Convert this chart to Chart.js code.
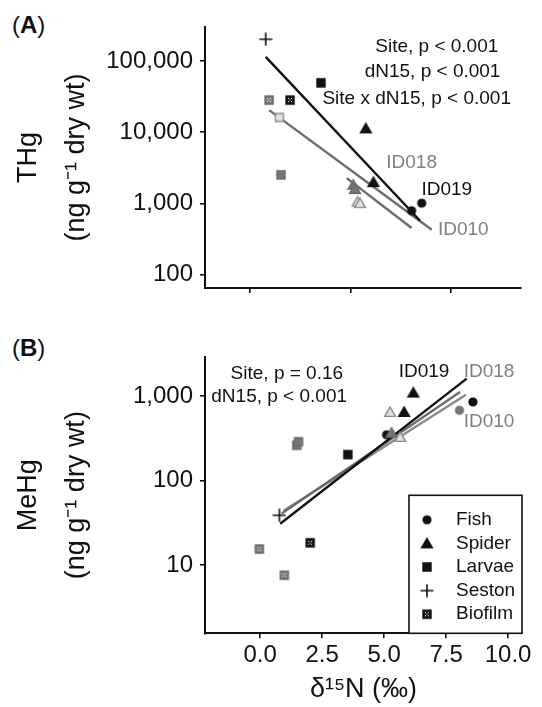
<!DOCTYPE html>
<html>
<head>
<meta charset="utf-8">
<script src="https://cdn.jsdelivr.net/npm/chart.js@4.4.1/dist/chart.umd.min.js"></script>
<style>
  body { margin: 0; background: #fff; width: 542px; height: 707px; position: relative; overflow: hidden;
         font-family: "Liberation Sans", Arial, sans-serif; color: #111; }
  .panel { position: absolute; left: 0; }
  #wrapA { top: 0; }
  #wrapB { top: 330px; }
  .tag { position: absolute; left: 12px; font-size: 24px; line-height: 1; }
</style>
</head>
<body>
<div class="tag" style="top:13px">(<b>A</b>)</div>
<div class="tag" style="top:336px">(<b>B</b>)</div>
<div class="panel" id="wrapA"><canvas id="chartA" width="542" height="320"></canvas></div>
<div class="panel" id="wrapB"><canvas id="chartB" width="542" height="377"></canvas></div>
<script>
// ---- panel A: THg vs d15N ----
const thgId019X = [0.78, 3.53, 1.99, 5.76, 6.14, 8.54, 8.04];
const thgId019Y = [201000, 49200, 28200, 11300, 1990, 1010, 791];
const thgId019Kind = ["Seston", "Larvae", "Biofilm", "Spider", "Spider", "Fish", "Fish"];

const thgId018X = [0.95, 1.54, 5.14, 5.22];
const thgId018Y = [28200, 2520, 1830, 1590];
const thgId018Kind = ["Biofilm", "Larvae", "Spider", "Spider"];

const thgId010X = [1.46, 5.35, 5.47];
const thgId010Y = [16100, 1060, 1010];
const thgId010Kind = ["Larvae", "Spider", "Spider"];

// fitted lines (start, end)
const thgFit019X = [0.78, 8.46];
const thgFit019Y = [114000, 573];
const thgFit018X = [4.81, 8.04];
const thgFit018Y = [2270, 453];
const thgFit010X = [0.95, 9.04];
const thgFit010Y = [20400, 429];

const thgTicks = [100, 1000, 10000, 100000];
const thgXTicks = [0, 5, 10];

const thgNotes = ["Site, p < 0.001", "dN15, p < 0.001", "Site x dN15, p < 0.001"];
const thgNoteX = [9.29, 9.08, 8.29];
const thgNoteY = [157000, 70200, 29800];
const thgSites = ["ID018", "ID019", "ID010"];
const thgSiteX = [8.04, 9.79, 10.61];
const thgSiteY = [3670, 1560, 429];

// ---- panel B: MeHg vs d15N ----
const mehgId019X = [0.78, 2.02, 3.54, 6.18, 5.81, 8.58, 5.10];
const mehgId019Y = [39, 18.4, 204, 1106, 652, 856, 350];
const mehgId019Kind = ["Seston", "Biofilm", "Larvae", "Spider", "Spider", "Fish", "Fish"];

const mehgId018X = [1.48, 1.55, -0.03, 0.98, 8.04, 5.30];
const mehgId018Y = [263, 290, 15.5, 7.6, 683, 370];
const mehgId018Kind = ["Larvae", "Larvae", "Biofilm", "Biofilm", "Fish", "Spider"];

const mehgId010X = [5.24, 5.65];
const mehgId010Y = [652, 330];
const mehgId010Kind = ["Spider", "Spider"];

const mehgFit019X = [0.81, 8.33];
const mehgFit019Y = [31, 1620];
const mehgFit018X = [0.87, 8.06];
const mehgFit018Y = [41, 1125];
const mehgFit010X = [0.95, 8.3];
const mehgFit010Y = [44, 1040];

const mehgTicks = [10, 100, 1000];
const mehgXTicks = [0, 2.5, 5, 7.5, 10];

const mehgNotes = ["Site, p = 0.16", "dN15, p < 0.001"];
const mehgNoteX = [1.08, 0.77];
const mehgNoteY = [1857, 981];
const mehgSites = ["ID019", "ID018", "ID010"];
const mehgSiteX = [6.61, 9.23, 9.23];
const mehgSiteY = [1940, 1940, 497];

const legendKinds = ["Fish", "Spider", "Larvae", "Seston", "Biofilm"];

// ---- styles ----
const FONT = '"Liberation Sans", Arial, sans-serif';
Chart.defaults.font.family = FONT;
Chart.defaults.color = "#111";

const siteStyle = {
    ID019: { fill: "#111", stroke: "#111", label: "#111", line: "#111" },
    ID018: { fill: "#767676", stroke: "#6a6a6a", label: "#808080", line: "#6b6b6b" },
    ID010: { fill: "#e2e2e2", stroke: "#8a8a8a", label: "#808080", line: "#8a8a8a" }
};

const markerCache = {};
function marker(kind, site) {
    let key = kind + site;
    if (markerCache[key]) return markerCache[key];
    let st = siteStyle[site];
    let c = document.createElement("canvas");
    c.width = 14; c.height = 14;
    let g = c.getContext("2d");
    g.fillStyle = st.fill;
    g.strokeStyle = st.stroke;
    g.lineWidth = 1.4;
    g.beginPath();
    if (kind === "Fish") {
        g.arc(7, 7, 3.9, 0, Math.PI * 2);
        g.fill(); g.stroke();
    } else if (kind === "Spider") {
        g.moveTo(7, 2); g.lineTo(12.4, 11.4); g.lineTo(1.6, 11.4); g.closePath();
        g.fill(); g.stroke();
    } else if (kind === "Larvae") {
        g.rect(3, 3, 8, 8);
        g.fill(); g.stroke();
    } else if (kind === "Seston") {
        g.strokeStyle = st.stroke === "#8a8a8a" ? "#8a8a8a" : st.stroke;
        g.lineWidth = 1.6;
        g.moveTo(7, 0.5); g.lineTo(7, 13.5);
        g.moveTo(0.5, 7); g.lineTo(13.5, 7);
        g.stroke();
    } else {
        // biofilm: filled square with small white dots
        g.rect(3, 3, 8, 8);
        g.fill(); g.stroke();
        g.fillStyle = "#fff";
        [[5, 5], [8, 5], [6.5, 6.5], [5, 8], [8, 8]].forEach(p => g.fillRect(p[0], p[1], 1, 1));
    }
    markerCache[key] = c;
    return c;
}

function pts(xs, ys) {
    return xs.map((x, i) => ({ x: x, y: ys[i] }));
}

function pointSet(xs, ys, kinds, site) {
    return {
        data: pts(xs, ys),
        pointStyle: kinds.map(k => marker(k, site)),
        pointRadius: 5,
        showLine: false,
        order: 0
    };
}

function lineSet(xs, ys, site) {
    return {
        data: pts(xs, ys),
        showLine: true,
        borderColor: siteStyle[site].line,
        borderWidth: 2.4,
        pointRadius: 0,
        order: 1
    };
}

function notesPlugin(texts, xs, ys, sites, sx, sy) {
    return {
        id: "notes",
        afterDatasetsDraw(chart) {
            let ctx = chart.ctx;
            let xs_ = chart.scales.x, ys_ = chart.scales.y;
            ctx.save();
            ctx.font = "19px " + FONT;
            ctx.textAlign = "center";
            ctx.textBaseline = "middle";
            ctx.fillStyle = "#111";
            texts.forEach((t, i) => {
                ctx.fillText(t, xs_.getPixelForValue(xs[i]), ys_.getPixelForValue(ys[i]));
            });
            sites.forEach((s, i) => {
                ctx.fillStyle = siteStyle[s].label;
                ctx.fillText(s, xs_.getPixelForValue(sx[i]), ys_.getPixelForValue(sy[i]));
            });
            ctx.restore();
        }
    };
}

const legendPlugin = {
    id: "kindLegend",
    afterDraw(chart) {
        let ctx = chart.ctx;
        let area = chart.chartArea;
        let w = 113, h = 138;
        let left = area.right - w, top = area.bottom - h;
        ctx.save();
        ctx.fillStyle = "#fff";
        ctx.fillRect(left, top, w, h);
        ctx.strokeStyle = "#111";
        ctx.lineWidth = 1.6;
        ctx.strokeRect(left, top, w, h);
        ctx.font = "19px " + FONT;
        ctx.fillStyle = "#111";
        ctx.textBaseline = "middle";
        legendKinds.forEach((k, i) => {
            let y = top + 24.5 + i * 23.6;
            let img = marker(k, "ID019");
            ctx.drawImage(img, left + 18 - img.width / 2, y - img.height / 2);
            ctx.fillText(k, left + 47, y);
        });
        ctx.restore();
    }
};

function axisLook(extra) {
    return Object.assign({
        border: { display: true, color: "#111", width: 2 },
        grid: { display: true, drawOnChartArea: false, drawTicks: true, tickLength: 5, color: "#111", lineWidth: 1.6 }
    }, extra);
}

function yTitle(first) {
    return {
        display: true,
        text: [first, "(ng g\u207B\u00B9 dry wt)"],
        font: { size: 27, lineHeight: 1.76 },
        color: "#111",
        padding: { top: 5, bottom: 0 }
    };
}

// ---- chart A ----
new Chart(document.getElementById("chartA"), {
    type: "scatter",
    data: {
        datasets: [
            lineSet(thgFit019X, thgFit019Y, "ID019"),
            lineSet(thgFit018X, thgFit018Y, "ID018"),
            lineSet(thgFit010X, thgFit010Y, "ID018"),
            pointSet(thgId010X, thgId010Y, thgId010Kind, "ID010"),
            pointSet(thgId018X, thgId018Y, thgId018Kind, "ID018"),
            pointSet(thgId019X, thgId019Y, thgId019Kind, "ID019")
        ]
    },
    options: {
        responsive: false,
        animation: false,
        events: [],
        layout: { padding: { top: 27, right: 21, left: 0, bottom: 0 } },
        plugins: { legend: { display: false }, tooltip: { enabled: false } },
        scales: {
            x: axisLook({
                type: "linear", min: -2.24, max: 13.48,
                ticks: { display: false },
                afterBuildTicks: s => { s.ticks = thgXTicks.map(v => ({ value: v })); },
                afterFit: s => { s.height = 32; }
            }),
            y: axisLook({
                type: "logarithmic", min: 65.2, max: 299000,
                ticks: { font: { size: 24 }, color: "#111", padding: 7, callback: v => Number(v).toLocaleString("en-US") },
                afterBuildTicks: s => { s.ticks = thgTicks.map(v => ({ value: v })); },
                afterFit: s => { s.width = 205; },
                title: yTitle("THg")
            })
        }
    },
    plugins: [notesPlugin(thgNotes, thgNoteX, thgNoteY, thgSites, thgSiteX, thgSiteY)]
});

// ---- chart B ----
new Chart(document.getElementById("chartB"), {
    type: "scatter",
    data: {
        datasets: [
            lineSet(mehgFit019X, mehgFit019Y, "ID019"),
            lineSet(mehgFit018X, mehgFit018Y, "ID018"),
            lineSet(mehgFit010X, mehgFit010Y, "ID010"),
            pointSet(mehgId010X, mehgId010Y, mehgId010Kind, "ID010"),
            pointSet(mehgId018X, mehgId018Y, mehgId018Kind, "ID018"),
            pointSet(mehgId019X, mehgId019Y, mehgId019Kind, "ID019")
        ]
    },
    options: {
        responsive: false,
        animation: false,
        events: [],
        layout: { padding: { top: 27, right: 20, left: 0, bottom: 0 } },
        plugins: { legend: { display: false }, tooltip: { enabled: false } },
        scales: {
            x: axisLook({
                type: "linear", min: -2.22, max: 10.56,
                ticks: { font: { size: 24 }, color: "#111", padding: 3, maxRotation: 0,
                         callback: v => Number(v).toFixed(1) },
                afterBuildTicks: s => { s.ticks = mehgXTicks.map(v => ({ value: v })); },
                afterFit: s => { s.height = 73.7; },
                title: { display: true, text: "\u03B4\u00B9\u2075N (\u2030)", font: { size: 27 }, color: "#111",
                         padding: { top: 0, bottom: 1 } }
            }),
            y: axisLook({
                type: "logarithmic", min: 1.56, max: 2920,
                ticks: { font: { size: 24 }, color: "#111", padding: 7, callback: v => Number(v).toLocaleString("en-US") },
                afterBuildTicks: s => { s.ticks = mehgTicks.map(v => ({ value: v })); },
                afterFit: s => { s.width = 205; },
                title: yTitle("MeHg")
            })
        }
    },
    plugins: [notesPlugin(mehgNotes, mehgNoteX, mehgNoteY, mehgSites, mehgSiteX, mehgSiteY), legendPlugin]
});
</script>
</body>
</html>
